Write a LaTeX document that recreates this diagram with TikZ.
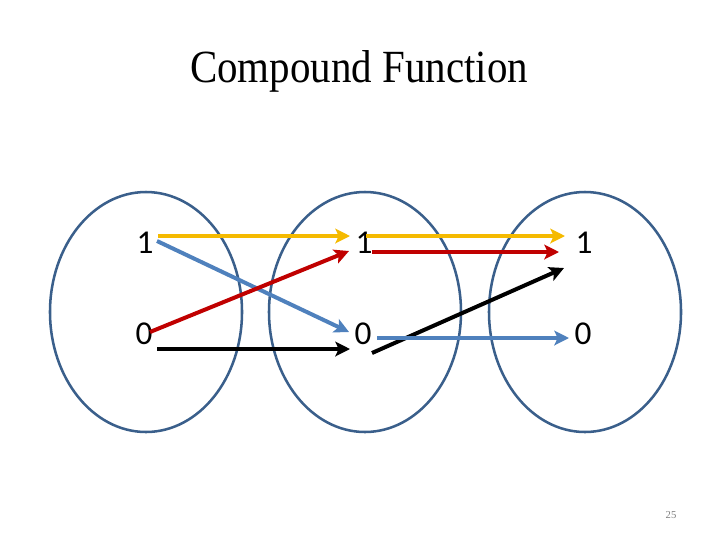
\documentclass[tikz,border=0pt]{standalone}
\usepackage{fontspec}
\setmainfont{Liberation Serif}
\newfontfamily\digitfont{Carlito}
\usepackage{xcolor}
\definecolor{setblue}{HTML}{3A5F8B}
\definecolor{mapgold}{HTML}{F5BA00}
\definecolor{mapblue}{HTML}{4F81BD}
\definecolor{mapred}{HTML}{C00000}
\usetikzlibrary{arrows.meta}

\begin{document}
\begin{tikzpicture}[x=.75pt,y=-.75pt,declare function={ry=120;rx=96;},
		set/.style={draw=setblue,line width=1.9pt},
		digit/.style={font=\digitfont\fontsize{25}{28}\selectfont,inner sep=0pt},
		map/.style={line width=3pt,-{Stealth[length=11pt,width=11pt,inset=2.5pt]}}]
		\useasboundingbox (0,0) rectangle (720,540);
		\node[yscale=1.08,xscale=.96] (title) at (359,71) {\fontsize{32}{38}\selectfont Compound Function};
		\foreach \s/\cx in {A/146,B/365,C/585}{
			\draw[set] (\cx,312) ellipse (rx and ry);
			\node[digit] (\s1) at (\cx-1,243) {1};
			\node[digit] (\s0) at (\cx-2,334) {0};
		}
		% ends of the maps
		\coordinate (ay) at (158,236); \coordinate (by) at (350,236);
		\coordinate (ab) at (157,241); \coordinate (bb) at (349,332);
		\coordinate (ar) at (150,332); \coordinate (br) at (349,251);
		\coordinate (ak) at (157,349); \coordinate (bk) at (350,349);
		\coordinate (cy) at (366,236); \coordinate (dy) at (565,236);
		\coordinate (cr) at (372,252); \coordinate (dr) at (559,252);
		\coordinate (ck) at (372,353); \coordinate (dk) at (564,268);
		\coordinate (cb) at (377,338); \coordinate (db) at (569,338);
		\draw[map,mapgold] (ay)--(by);
		\draw[map,mapblue] (ab)--(bb);
		\draw[map,mapred] (ar)--(br);
		\draw[map,black] (ak)--(bk);
		\draw[map,mapgold] (cy)--(dy);
		\draw[map,mapred] (cr)--(dr);
		\draw[map,black] (ck)--(dk);
		\draw[map,mapblue] (cb)--(db);
		\node[text=gray,font=\fontsize{8}{9}\selectfont] (page) at (671,515) {25};
	\end{tikzpicture}
\end{document}
